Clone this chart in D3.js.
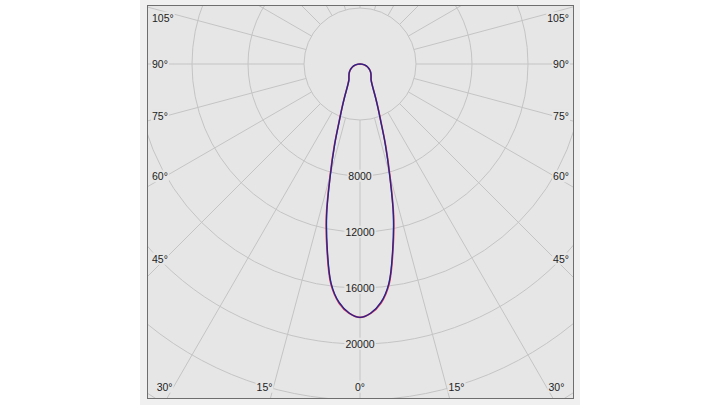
<!DOCTYPE html>
<html>
<head>
<meta charset="utf-8">
<script src="https://cdn.jsdelivr.net/npm/d3@7"></script>
<style>
  body { margin: 0; background: #fff; }
  svg { display: block; }
  text { font-family: "Liberation Sans", Arial, sans-serif; font-size: 10.5px; fill: #222; }
</style>
</head>
<body>
<div id="viz"></div>
<script>
// polar angles (deg from nadir) and intensities (cd)
var angles = [0, 2.5, 5, 7.5, 10, 12.5, 15, 17.5, 20, 22.5, 25, 30, 35, 40, 45, 50, 55, 60, 65, 70, 75, 80, 85, 90];
var planeBlue = [18100, 17800, 17100, 15800, 13450, 11000, 8150, 6000, 4300, 3300, 2600, 1750, 1380, 1230, 1110, 1010, 900, 785, 665, 540, 405, 275, 140, 0];
var planeRed  = [18100, 17820, 17150, 15880, 13550, 11100, 8250, 6080, 4360, 3340, 2620, 1760, 1385, 1230, 1110, 1010, 900, 785, 665, 540, 405, 275, 140, 0];
var ringValues = [4000, 8000, 12000, 16000, 20000, 24000, 28000];
var ringLabels = [8000, 12000, 16000, 20000];
var spokeAngles = d3.range(0, 360, 15);
var sideLabels = [45, 60, 75, 90, 105];
var bottomLabels = [0, 15, 30];

var W = 720, H = 405;
var cx = 360, cy = 64;
var frame = {x0: 147.5, y0: 5.5, x1: 573.5, y1: 398.5};
var bg = "#e6e6e6";

var r = d3.scaleLinear().domain([0, 4000]).range([0, 56]);
var rad = function(d){ return d * Math.PI / 180; };

var svg = d3.select("#viz").append("svg")
    .attr("width", W)
    .attr("height", H);

// panel + frame
svg.append("rect")
    .attr("x", 140).attr("y", 0)
    .attr("width", 440).attr("height", H)
    .style("fill", "#f0f0f0");

svg.append("clipPath").attr("id", "clip")
  .append("rect")
    .attr("x", frame.x0).attr("y", frame.y0)
    .attr("width", frame.x1 - frame.x0).attr("height", frame.y1 - frame.y0);

svg.append("rect")
    .attr("x", frame.x0).attr("y", frame.y0)
    .attr("width", frame.x1 - frame.x0).attr("height", frame.y1 - frame.y0)
    .style("fill", bg);

var plot = svg.append("g").attr("clip-path", "url(#clip)");
var g = plot.append("g").attr("transform", "translate(" + cx + "," + cy + ")");

// rings
g.selectAll("circle.ring")
    .data(ringValues)
    .enter().append("circle")
    .attr("class", "ring")
    .attr("r", function(d){ return r(d); })
    .style("fill", "none")
    .style("stroke", "#c4c4c4")
    .style("stroke-width", 1);

// spokes (angle from nadir)
g.selectAll("line.spoke")
    .data(spokeAngles)
    .enter().append("line")
    .attr("class", "spoke")
    .attr("x1", function(d){ return r(4000) * Math.sin(rad(d)); })
    .attr("y1", function(d){ return r(4000) * Math.cos(rad(d)); })
    .attr("x2", function(d){ return 700 * Math.sin(rad(d)); })
    .attr("y2", function(d){ return 700 * Math.cos(rad(d)); })
    .style("stroke", "#c4c4c4")
    .style("stroke-width", 1);

// curves, mirrored to both sides
function pts(vals){
    var right = angles.map(function(a, i){ return [a, vals[i]]; });
    var left = angles.slice(1).map(function(a, i){ return [-a, vals[i + 1]]; }).reverse();
    return left.concat(right);
}

var line = d3.lineRadial()
    .angle(function(d){ return Math.PI - rad(d[0]); })
    .radius(function(d){ return r(d[1]); })
    .curve(d3.curveCatmullRom);

g.append("path")
    .datum(pts(planeRed))
    .attr("d", line)
    .style("fill", "none")
    .style("stroke", "#e2365e")
    .style("stroke-width", 1.6);

g.append("path")
    .datum(pts(planeBlue))
    .attr("d", line)
    .style("fill", "none")
    .style("stroke", "#25258a")
    .style("stroke-width", 1.4);

// labels with background boxes
var labels = svg.append("g");

function addLabel(x, y, txt, anchor){
    var grp = labels.append("g");
    var t = grp.append("text")
        .attr("x", x).attr("y", y)
        .attr("dy", "0.35em")
        .attr("text-anchor", anchor)
        .text(txt);
    var b = t.node().getBBox();
    grp.insert("rect", "text")
        .attr("x", b.x - 1).attr("y", b.y)
        .attr("width", b.width + 2).attr("height", b.height)
        .style("fill", bg);
}

ringLabels.forEach(function(d){
    addLabel(cx, cy + r(d), d, "middle");
});

sideLabels.forEach(function(d){
    var y = cy + 195 / Math.tan(rad(d));
    y = Math.max(y, 18);
    addLabel(152, y, d + "°", "start");
    addLabel(569, y, d + "°", "end");
});

var by = 387;
bottomLabels.forEach(function(d){
    var dx = (by - cy) * Math.tan(rad(d));
    if (d === 0) {
        addLabel(cx, by, d + "°", "middle");
    } else {
        addLabel(cx - dx - 1, by, d + "°", "end");
        addLabel(cx + dx + 2, by, d + "°", "start");
    }
});

// frame border on top
svg.append("rect")
    .attr("x", frame.x0).attr("y", frame.y0)
    .attr("width", frame.x1 - frame.x0).attr("height", frame.y1 - frame.y0)
    .style("fill", "none")
    .style("stroke", "#6e6e6e")
    .style("stroke-width", 1);
</script>
</body>
</html>
